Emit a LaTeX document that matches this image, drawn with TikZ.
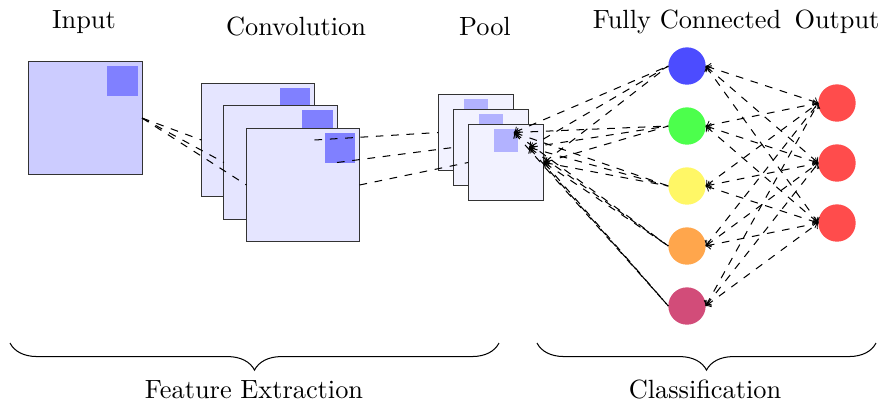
\documentclass[tikz,border=0pt]{standalone}
\usetikzlibrary{decorations.pathreplacing}

\tikzset{
  fmap/.style={draw=black!80, inner sep=0pt, outer sep=0pt, minimum size=#1},
  patch/.style={inner sep=0pt, outer sep=0pt, minimum size=#1},
  conn/.style={dashed},
  neuron/.style={circle, inner sep=0pt, outer sep=0pt, minimum size=14.6pt},
  lbl/.style={anchor=base, inner sep=0pt, font=\fontsize{10.3pt}{12pt}\selectfont},
  grp/.style={decorate, decoration={brace, mirror, amplitude=10.6pt}},
}

\begin{document}
\begin{tikzpicture}[x=0.391pt, y=-0.391pt]
  \useasboundingbox (0,0) rectangle (882,402);

  % input image with its receptive field
  \node[fmap=44.2pt, fill=blue!20] (in) at (85.5,118) {};
  \node[patch=12.1pt, fill=blue!50] (inp) at (122.5,81) {};

  % convolution feature maps
  \foreach \i/\cx/\cy in {1/258/140, 2/280.5/162.5, 3/303/185} {
    \node[fmap=44.2pt, fill=blue!10] (c\i) at (\cx,\cy) {};
    \node[patch=12.1pt, fill=blue!50] (cp\i) at (\cx+37,\cy-37) {};
  }

  % pooled maps
  \foreach \i/\cx/\cy in {1/476/132.5, 2/491/147.5, 3/506/162.5} {
    \node[fmap=29.7pt, fill=blue!5] (p\i) at (\cx,\cy) {};
    \node[patch=9pt, fill=blue!30] (pp\i) at (\cx,\cy-22.5) {};
  }

  % fully connected layer
  \node[neuron, fill=blue!70]   (f1) at (687,66) {};
  \node[neuron, fill=green!70]  (f2) at (687,126) {};
  \node[neuron, fill=yellow!60] (f3) at (687,186) {};
  \node[neuron, fill=orange!70] (f4) at (687,246) {};
  \node[neuron, fill=purple!70] (f5) at (687,306) {};

  % output layer
  \foreach \i/\cy in {1/103, 2/163, 3/223}
    \node[neuron, fill=red!70] (o\i) at (837,\cy) {};

  % column titles
  \node[lbl] (tin)   at (84,28)  {Input};
  \node[lbl] (tconv) at (296,35) {Convolution};
  \node[lbl] (tpool) at (485,35) {Pool};
  \node[lbl] (tfc)   at (687,28) {Fully Connected};
  \node[lbl] (tout)  at (837,28) {Output};

  % input -> convolution
  \foreach \i in {1,2,3}
    \draw[conn] (in.east) -- (c\i.west);

  % convolution -> pooling
  \foreach \i in {1,2,3}
    \draw[conn] (c\i.east) -- (p\i.west);

  % pooling <- fully connected
  \foreach \j in {1,...,5}
    \foreach \i in {1,2,3}
      \draw[conn, <-] (p\i.east) -- (f\j.west);

  % fully connected <-> output
  \foreach \j in {1,...,5}
    \foreach \k in {1,2,3}
      \draw[conn, <->] (f\j.east) -- (o\k.west);

  % stage braces
  \draw[grp] (10,343) -- (499,343);
  \draw[grp] (537,343) -- (876,343);
  \node[lbl] (tfe) at (254,398) {Feature Extraction};
  \node[lbl] (tcl) at (705,398) {Classification};
\end{tikzpicture}
\end{document}
